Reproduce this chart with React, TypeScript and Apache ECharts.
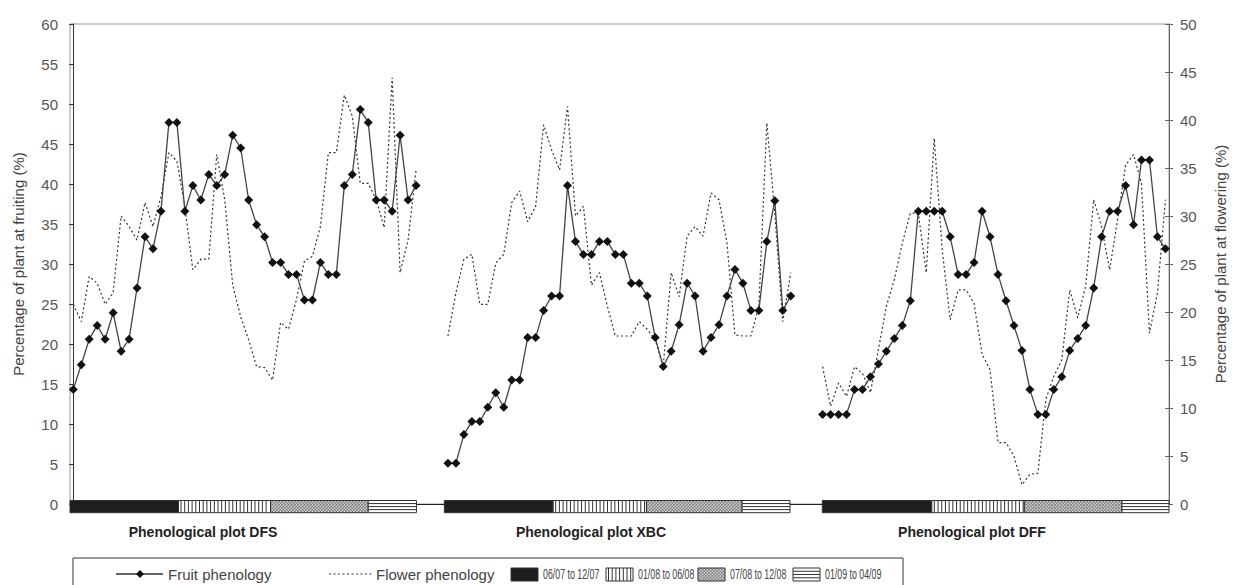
import React, { useEffect, useRef } from "react";
import * as echarts from "echarts";

const panelTitles = ["Phenological plot DFS", "Phenological plot XBC", "Phenological plot DFF"];
const panelOffsets = [0, 47, 94];

const fruitDFS = [14.3, 17.4, 20.6, 22.3, 20.6, 23.9, 19.1, 20.6, 27.0, 33.4, 31.9, 36.6, 47.7, 47.7, 36.6, 39.8, 38.0, 41.2, 39.8, 41.2, 46.1, 44.5, 38.0, 34.9, 33.4, 30.2, 30.2, 28.7, 28.7, 25.5, 25.5, 30.2, 28.7, 28.7, 39.8, 41.2, 49.3, 47.7, 38.0, 38.0, 36.6, 46.1, 38.0, 39.8];
const flowerDFS = [20.8, 19.0, 23.7, 23.0, 20.8, 22.0, 30.0, 28.9, 27.5, 31.4, 28.9, 32.0, 36.6, 35.7, 31.0, 24.4, 25.5, 25.5, 36.4, 31.7, 22.8, 19.5, 17.1, 14.3, 14.2, 12.9, 18.9, 18.2, 21.3, 25.3, 25.8, 28.9, 36.6, 36.6, 42.6, 40.4, 33.4, 33.4, 31.7, 28.8, 44.4, 24.1, 27.5, 34.8];
const fruitXBC = [5.1, 5.1, 8.7, 10.3, 10.3, 12.1, 13.9, 12.1, 15.5, 15.5, 20.8, 20.8, 24.2, 26.0, 26.0, 39.8, 32.8, 31.2, 31.2, 32.8, 32.8, 31.2, 31.2, 27.6, 27.6, 26.0, 20.8, 17.2, 19.1, 22.4, 27.6, 26.0, 19.1, 20.8, 22.4, 26.0, 29.3, 27.6, 24.2, 24.2, 32.8, 37.9, 24.2, 26.0];
const flowerXBC = [17.5, 22.0, 25.5, 26.0, 20.8, 20.8, 25.1, 26.0, 31.4, 32.6, 29.4, 31.0, 39.5, 36.9, 34.8, 41.4, 30.0, 31.0, 22.8, 24.1, 20.6, 17.5, 17.5, 17.5, 19.0, 18.2, 17.1, 14.3, 24.1, 21.6, 27.9, 28.9, 27.9, 32.4, 31.7, 27.2, 17.6, 17.5, 17.5, 20.6, 39.7, 30.3, 19.0, 24.1];
const fruitDFF = [11.2, 11.2, 11.2, 11.2, 14.3, 14.3, 15.9, 17.5, 19.1, 20.7, 22.3, 25.4, 36.6, 36.6, 36.6, 36.6, 33.4, 28.7, 28.7, 30.2, 36.6, 33.4, 28.7, 25.4, 22.3, 19.2, 14.3, 11.2, 11.2, 14.3, 15.9, 19.2, 20.7, 22.3, 27.0, 33.4, 36.6, 36.6, 39.8, 34.9, 43.0, 43.0, 33.4, 31.9];
const flowerDFF = [14.3, 10.2, 12.6, 11.2, 14.3, 13.6, 11.6, 16.1, 20.6, 23.4, 27.2, 30.3, 30.3, 24.1, 38.1, 26.5, 19.2, 22.3, 22.3, 20.9, 15.6, 14.0, 6.4, 6.4, 5.0, 2.0, 3.1, 3.2, 10.9, 13.3, 15.0, 22.3, 19.4, 22.7, 31.7, 28.9, 24.4, 29.6, 35.3, 36.4, 33.4, 17.8, 22.0, 31.7];

const fruitSets = [fruitDFS, fruitXBC, fruitDFF];
const flowerSets = [flowerDFS, flowerXBC, flowerDFF];

const periodLabels = ["06/07 to 12/07", "01/08 to 06/08", "07/08 to 12/08", "01/09 to 04/09"];
// period boundaries, in sampling-index units along the shared x axis
const periodBreaks = [
  [-0.41, 13.2, 24.75, 37.0, 43.05],
  [46.55, 60.2, 71.9, 83.9, 89.9],
  [93.96, 107.7, 119.3, 131.55, 137.45],
];

const seriesNames = ["Fruit phenology", "Flower phenology"];
const leftMax = 60;
const rightMax = 50;
const tickStep = 5;
const xMin = -0.41;
const xMax = 137.45;

const FONT = "'Liberation Sans', Arial, sans-serif";

function patternElements(x1: number, y1: number, x2: number, y2: number, kind: number) {
  const els: any[] = [];
  const w = x2 - x1;
  const h = y2 - y1;
  const fills = ["#1e1e1e", "#ffffff", "#cfcfcf", "#ffffff"];
  els.push({ type: "rect", shape: { x: x1, y: y1, width: w, height: h }, style: { fill: fills[kind], stroke: null } });
  if (kind === 1) {
    for (let x = x1 + 2.5; x < x2 - 0.8; x += 3.7) {
      els.push({ type: "line", shape: { x1: x, y1: y1, x2: x, y2: y2 }, style: { stroke: "#333", lineWidth: 1 } });
    }
  } else if (kind === 2) {
    const step = 3.2;
    for (let dir = 0; dir < 2; dir++) {
      for (let t = x1 - h; t <= x2; t += step) {
        const umin = Math.max(0, (x1 - t) / h);
        const umax = Math.min(1, (x2 - t) / h);
        if (umin >= umax) continue;
        const ya = dir === 0 ? y1 : y2;
        const yb = dir === 0 ? y2 : y1;
        els.push({
          type: "line",
          shape: { x1: t + umin * h, y1: ya + (yb - ya) * umin, x2: t + umax * h, y2: ya + (yb - ya) * umax },
          style: { stroke: "#666", lineWidth: 0.7 },
        });
      }
    }
  } else if (kind === 3) {
    for (let j = 1; j <= 3; j++) {
      const y = y1 + (h * j) / 4;
      els.push({ type: "line", shape: { x1: x1, y1: y, x2: x2, y2: y }, style: { stroke: "#333", lineWidth: 1 } });
    }
  }
  els.push({ type: "rect", shape: { x: x1, y: y1, width: w, height: h }, style: { fill: null, stroke: "#333", lineWidth: 1 } });
  return els;
}

function buildOption() {
  const series: any[] = [];
  fruitSets.forEach((vals, p) => {
    series.push({
      name: seriesNames[0],
      type: "line",
      yAxisIndex: 0,
      data: vals.map((v, i) => [panelOffsets[p] + i, v]),
      symbol: "diamond",
      symbolSize: [9, 9],
      itemStyle: { color: "#111" },
      lineStyle: { color: "#444", width: 1.3 },
      z: 4,
      silent: true,
    });
  });
  flowerSets.forEach((vals, p) => {
    series.push({
      name: seriesNames[1],
      type: "line",
      yAxisIndex: 1,
      data: vals.map((v, i) => [panelOffsets[p] + i, v]),
      symbol: "none",
      lineStyle: { color: "#333", width: 1.2, type: [2, 2.5] },
      z: 3,
      silent: true,
    });
  });
  const periodData: number[][] = [];
  periodBreaks.forEach((b) => {
    for (let k = 0; k < 4; k++) periodData.push([b[k], b[k + 1], k, 0]);
  });
  series.push({
    type: "custom",
    yAxisIndex: 0,
    data: periodData,
    encode: { x: [0, 1], y: 3 },
    clip: false,
    silent: true,
    z: 6,
    renderItem: (params: any, api: any) => {
      const s = api.coord([api.value(0), 0]);
      const e = api.coord([api.value(1), 0]);
      const y0 = s[1];
      return { type: "group", children: patternElements(s[0], y0 - 3.5, e[0], y0 + 8.7, api.value(2)) };
    },
  });

  const legendY = 574;
  const graphic: any[] = [];
  // panel titles
  const titleCenters = [203, 591, 972];
  panelTitles.forEach((t, i) => {
    graphic.push({
      type: "text",
      x: titleCenters[i],
      y: 532,
      style: { text: t, font: `bold 14px ${FONT}`, fill: "#222", align: "center", verticalAlign: "middle" },
    });
  });
  // legend frame
  graphic.push({ type: "rect", shape: { x: 73, y: 558, width: 830, height: 40 }, style: { fill: null, stroke: "#333", lineWidth: 1 } });
  // fruit sample
  graphic.push({ type: "line", shape: { x1: 116, y1: legendY, x2: 163, y2: legendY }, style: { stroke: "#333", lineWidth: 1.3 } });
  graphic.push({ type: "polygon", shape: { points: [[140, legendY - 4], [144, legendY], [140, legendY + 4], [136, legendY]] }, style: { fill: "#111" } });
  graphic.push({ type: "text", x: 168, y: legendY, style: { text: seriesNames[0], font: `15px ${FONT}`, fill: "#444", verticalAlign: "middle" } });
  // flower sample
  graphic.push({ type: "line", shape: { x1: 329, y1: legendY, x2: 372, y2: legendY }, style: { stroke: "#333", lineWidth: 1.2, lineDash: [2, 2.5] } });
  graphic.push({ type: "text", x: 376, y: legendY, style: { text: seriesNames[1], font: `15px ${FONT}`, fill: "#444", verticalAlign: "middle" } });
  // period samples
  const boxX = [511, 606, 698, 793];
  periodLabels.forEach((lab, k) => {
    graphic.push({ type: "group", children: patternElements(boxX[k], 568, boxX[k] + 27, 581, k) });
    graphic.push({
      type: "text",
      x: boxX[k] + 32,
      y: legendY,
      scaleX: 0.63,
      style: { text: lab, font: `14px ${FONT}`, fill: "#444", verticalAlign: "middle" },
    });
  });

  return {
    animation: false,
    backgroundColor: "#fff",
    grid: { left: 70, right: 63, top: 24, bottom: 81, show: true, borderColor: "#999", borderWidth: 1, backgroundColor: "transparent" },
    xAxis: {
      type: "value",
      min: xMin,
      max: xMax,
      axisLine: { show: true, onZero: false, lineStyle: { color: "#222", width: 1 } },
      axisTick: { show: false },
      axisLabel: { show: false },
      splitLine: { show: false },
    },
    yAxis: [
      {
        type: "value",
        position: "left",
        min: 0,
        max: leftMax,
        interval: tickStep,
        name: "Percentage of plant at fruiting (%)",
        nameLocation: "middle",
        nameRotate: 90,
        nameGap: 44,
        nameTextStyle: { fontFamily: FONT, fontSize: 15, color: "#444" },
        axisLine: { show: true, lineStyle: { color: "#333", width: 1 } },
        axisTick: { show: true, length: 4, lineStyle: { color: "#333" } },
        axisLabel: { fontFamily: FONT, fontSize: 15, color: "#555", margin: 12 },
        splitLine: { show: false },
      },
      {
        type: "value",
        position: "right",
        min: 0,
        max: rightMax,
        interval: tickStep,
        name: "Percentage of plant at flowering (%)",
        nameLocation: "middle",
        nameRotate: 90,
        nameGap: 44,
        nameTextStyle: { fontFamily: FONT, fontSize: 15, color: "#444" },
        axisLine: { show: true, lineStyle: { color: "#666", width: 1 } },
        axisTick: { show: true, length: 4, lineStyle: { color: "#666" } },
        axisLabel: { fontFamily: FONT, fontSize: 15, color: "#555", margin: 11 },
        splitLine: { show: false },
      },
      {
        type: "value",
        position: "left",
        min: 0,
        max: leftMax,
        interval: tickStep,
        axisLine: { show: false },
        axisTick: { show: true, inside: true, length: 4, lineStyle: { color: "#333" } },
        axisLabel: { show: false },
        splitLine: { show: false },
      },
      {
        type: "value",
        position: "right",
        min: 0,
        max: rightMax,
        interval: tickStep,
        axisLine: { show: false },
        axisTick: { show: true, inside: true, length: 4, lineStyle: { color: "#666" } },
        axisLabel: { show: false },
        splitLine: { show: false },
      },
    ],
    series,
    graphic,
  };
}

export default function App() {
  const ref = useRef<HTMLDivElement>(null);
  useEffect(() => {
    if (!ref.current) return;
    const chart = echarts.init(ref.current, undefined, { renderer: "svg" });
    chart.setOption(buildOption() as any);
    return () => chart.dispose();
  }, []);
  return (
    <div
      ref={ref}
      style={{ position: "fixed", left: 0, top: 0, width: 1236, height: 585, background: "#fff" }}
    />
  );
}
